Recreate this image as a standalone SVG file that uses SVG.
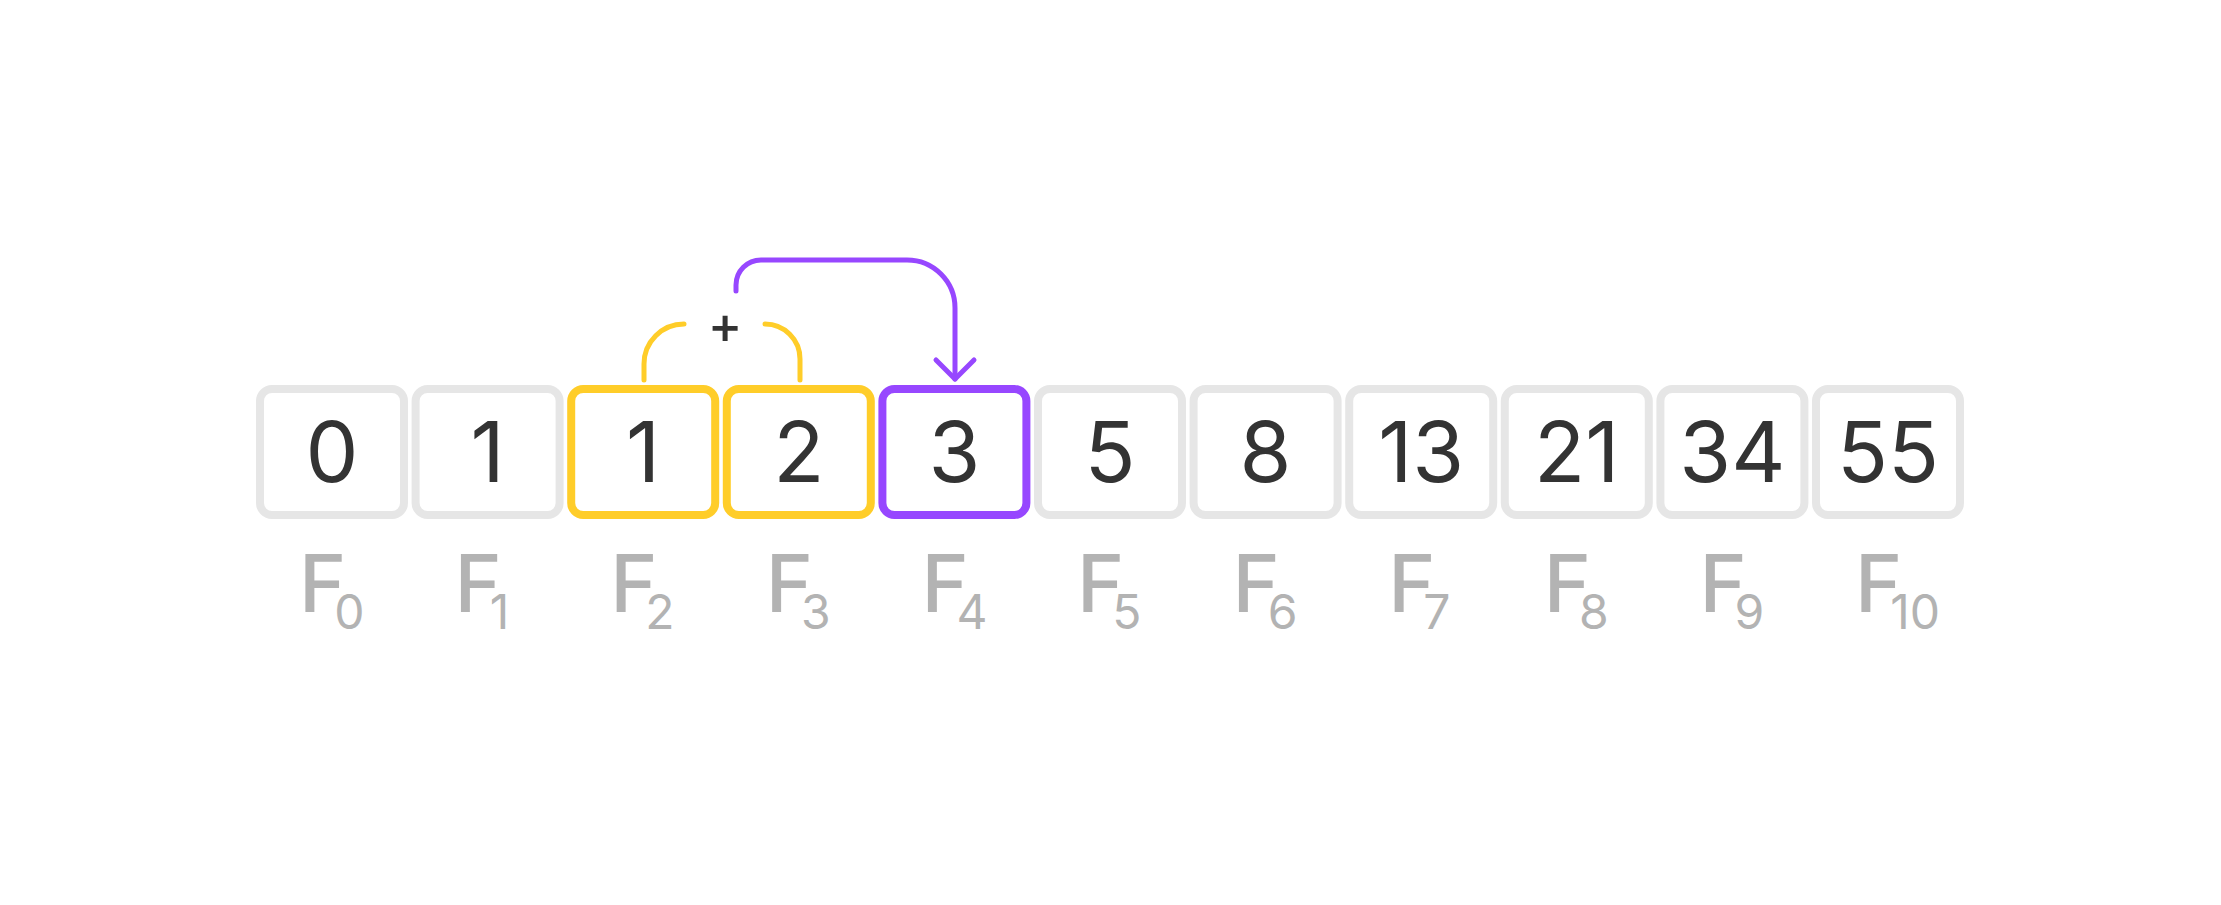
<svg xmlns="http://www.w3.org/2000/svg" width="2221" height="905" viewBox="0 0 2221 905">
<style>
.box{fill:#fff;stroke:#e6e6e6;stroke-width:8}
.yel{stroke:#ffcd29}
.pur{stroke:#9747ff}
.num{font-family:Inter,"Noto Sans",sans-serif;font-size:84px;font-weight:400;fill:#333;text-anchor:middle}
.F{font-family:Inter,"Noto Sans",sans-serif;font-size:80px;font-weight:500;fill:#b3b3b3}
.sub{font-size:48px;font-weight:400}
.ln{fill:none;stroke-width:5;stroke-linecap:round;stroke-linejoin:round}
</style>
<rect width="2221" height="905" fill="#fff"/>
<g id="connectors">
<path class="ln" stroke="#ffcd29" d="M644,380 V364 A40,40 0 0 1 684,324"/>
<path class="ln" stroke="#ffcd29" d="M765,324 A35,35 0 0 1 800,359 V380"/>
<path class="ln" stroke="#9747ff" d="M736,291 V285 A25,25 0 0 1 761,260 H907 A48,48 0 0 1 955,308 V379"/>
<path class="ln" stroke="#9747ff" d="M936,360 L955,379 L974,360"/>
<text x="725" y="343" font-family="Inter,'Noto Sans',sans-serif" font-size="52" font-weight="500" fill="#333" text-anchor="middle">+</text>
</g>
<g id="n0"><rect class="box" x="260" y="389" width="144" height="126" rx="12"/><text class="num" x="332" y="482">0</text><text class="F" x="299" y="612">F<tspan class="sub" dx="-12" dy="17">0</tspan></text></g>
<g id="n1"><rect class="box" x="415.6" y="389" width="144" height="126" rx="12"/><text class="num" x="487.6" y="482">1</text><text class="F" x="454.6" y="612">F<tspan class="sub" dx="-12" dy="17">1</tspan></text></g>
<g id="n2"><rect class="box yel" x="571.2" y="389" width="144" height="126" rx="12"/><text class="num" x="643.2" y="482">1</text><text class="F" x="610.2" y="612">F<tspan class="sub" dx="-12" dy="17">2</tspan></text></g>
<g id="n3"><rect class="box yel" x="726.8" y="389" width="144" height="126" rx="12"/><text class="num" x="798.8" y="482">2</text><text class="F" x="765.8" y="612">F<tspan class="sub" dx="-12" dy="17">3</tspan></text></g>
<g id="n4"><rect class="box pur" x="882.4" y="389" width="144" height="126" rx="12"/><text class="num" x="954.4" y="482">3</text><text class="F" x="921.4" y="612">F<tspan class="sub" dx="-12" dy="17">4</tspan></text></g>
<g id="n5"><rect class="box" x="1038" y="389" width="144" height="126" rx="12"/><text class="num" x="1110" y="482">5</text><text class="F" x="1077" y="612">F<tspan class="sub" dx="-12" dy="17">5</tspan></text></g>
<g id="n6"><rect class="box" x="1193.6" y="389" width="144" height="126" rx="12"/><text class="num" x="1265.6" y="482">8</text><text class="F" x="1232.6" y="612">F<tspan class="sub" dx="-12" dy="17">6</tspan></text></g>
<g id="n7"><rect class="box" x="1349.2" y="389" width="144" height="126" rx="12"/><text class="num" x="1421.2" y="482">13</text><text class="F" x="1388.2" y="612">F<tspan class="sub" dx="-12" dy="17">7</tspan></text></g>
<g id="n8"><rect class="box" x="1504.8" y="389" width="144" height="126" rx="12"/><text class="num" x="1576.8" y="482">21</text><text class="F" x="1543.8" y="612">F<tspan class="sub" dx="-12" dy="17">8</tspan></text></g>
<g id="n9"><rect class="box" x="1660.4" y="389" width="144" height="126" rx="12"/><text class="num" x="1732.4" y="482">34</text><text class="F" x="1699.4" y="612">F<tspan class="sub" dx="-12" dy="17">9</tspan></text></g>
<g id="n10"><rect class="box" x="1816" y="389" width="144" height="126" rx="12"/><text class="num" x="1888" y="482">55</text><text class="F" x="1855" y="612">F<tspan class="sub" dx="-12" dy="17">10</tspan></text></g>
</svg>
